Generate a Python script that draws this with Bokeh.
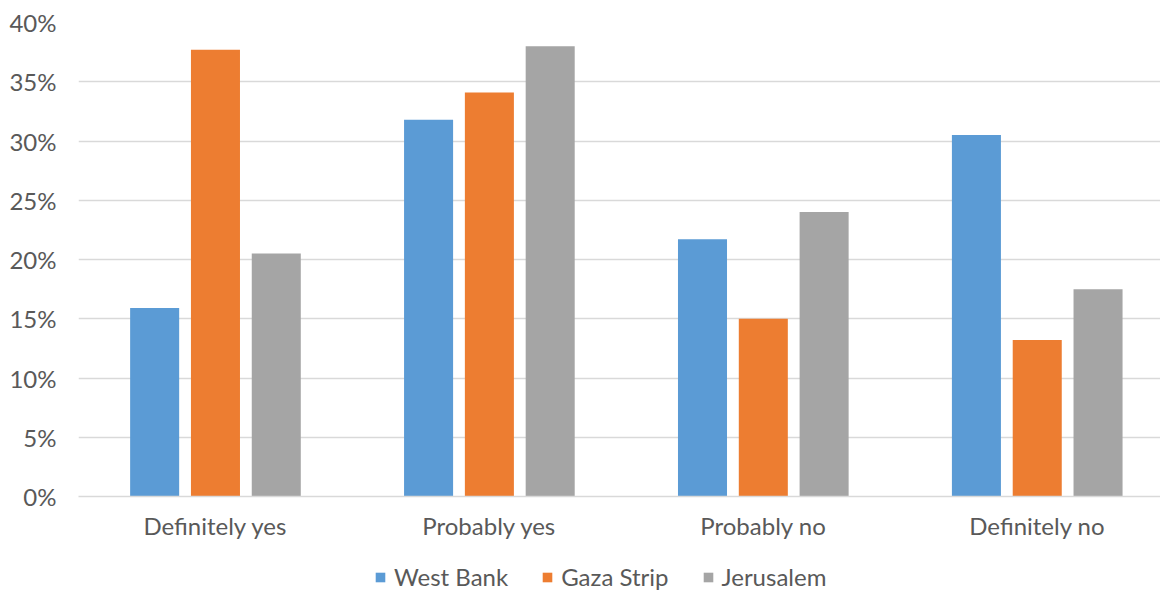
from bokeh.plotting import figure
from bokeh.models import (ColumnDataSource, Legend, LegendItem, NumeralTickFormatter,
                          FixedTicker, Range1d)
from bokeh.layouts import column
from bokeh.embed import file_html
from bokeh.resources import INLINE

categories = ["Definitely yes", "Probably yes", "Probably no", "Definitely no"]
series = ["West Bank", "Gaza Strip", "Jerusalem"]
west_bank = [15.9, 31.8, 21.7, 30.5]
gaza_strip = [37.7, 34.1, 15.0, 13.2]
jerusalem = [20.5, 38.0, 24.0, 17.5]
y_ticks = [0, 5, 10, 15, 20, 25, 30, 35, 40]

colors = ["#5B9BD5", "#ED7D31", "#A5A5A5"]
font = "Lato"
text_color = "#595959"
grid_color = "#D9D9D9"
FS = "24px"

W = 1160
centers = [i + 0.5 for i in range(len(categories))]
values = [west_bank, gaza_strip, jerusalem]
offsets = [-0.222, 0.0, 0.222]
bar_w = 0.179

p = figure(x_range=Range1d(0, 3.95), y_range=Range1d(0, 0.40), width=W, height=560,
           output_backend="svg", toolbar_location=None, min_border_left=78,
           min_border_right=0, min_border_top=22, min_border_bottom=64)

renderers = []
for vals, off, col in zip(values, offsets, colors):
    src = ColumnDataSource(dict(x=[c + off for c in centers], top=[v / 100 for v in vals]))
    r = p.vbar(x="x", top="top", width=bar_w, source=src, color=col, line_color=None)
    renderers.append(r)

p.outline_line_color = None
p.xgrid.grid_line_color = None
p.ygrid.grid_line_color = grid_color
p.ygrid.grid_line_width = 1.5

p.yaxis.ticker = FixedTicker(ticks=[t / 100 for t in y_ticks])
p.yaxis.formatter = NumeralTickFormatter(format="0%")
p.yaxis.axis_line_color = None
p.yaxis.major_tick_line_color = None
p.yaxis.minor_tick_line_color = None
p.yaxis.major_tick_out = 0
p.yaxis.major_tick_in = 0
p.yaxis.major_label_text_font = font
p.yaxis.major_label_text_font_size = FS
p.yaxis.major_label_text_color = text_color
p.yaxis.major_label_standoff = 22

p.xaxis.ticker = FixedTicker(ticks=centers)
p.xaxis.major_label_overrides = {c: name for c, name in zip(centers, categories)}
p.xaxis.axis_line_color = grid_color
p.xaxis.axis_line_width = 1.5
p.xaxis.major_tick_line_color = None
p.xaxis.minor_tick_line_color = None
p.xaxis.major_tick_out = 0
p.xaxis.major_tick_in = 0
p.xaxis.major_label_text_font = font
p.xaxis.major_label_text_font_size = FS
p.xaxis.major_label_text_color = text_color
p.xaxis.major_label_standoff = 14

# legend strip below the chart (its key renderers have zero height)
lg = figure(width=W, height=32, output_backend="svg", toolbar_location=None,
            x_axis_type=None, y_axis_type=None, min_border=0,
            x_range=Range1d(0, 1), y_range=Range1d(0, 1))
lg.outline_line_color = None
lg.grid.visible = False
lrs = []
for col in colors:
    lrs.append(lg.vbar(x=[0.5], top=[0], bottom=[0], width=0.1, color=col, line_color=None))

legend = Legend(items=[LegendItem(label=s, renderers=[r]) for s, r in zip(series, lrs)],
                orientation="horizontal", location=(296, 1),
                label_text_font=font, label_text_font_size=FS,
                label_text_color=text_color, glyph_width=12, glyph_height=12,
                label_standoff=8, spacing=33, border_line_color=None,
                background_fill_alpha=0, margin=0, padding=0)
lg.add_layout(legend, "center")

layout = column(p, lg, spacing=0)
open("out.html", "w").write(file_html(layout, INLINE))
